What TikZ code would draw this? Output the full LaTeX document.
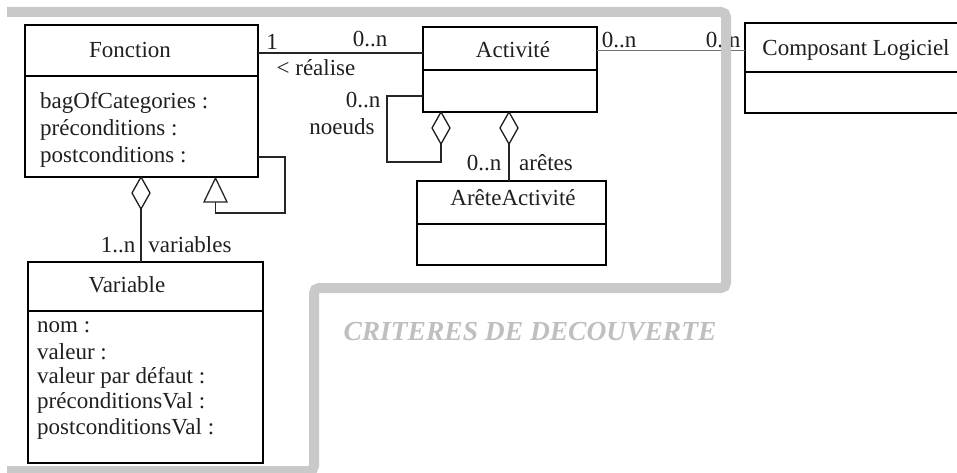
\documentclass[tikz,border=0pt]{standalone}
\usepackage{fontspec}
\setmainfont{Liberation Serif}
\usetikzlibrary{shapes.geometric,calc}
\begin{document}
\begin{tikzpicture}[x=1pt,y=-1pt,
  box/.style={draw=black, line width=1.4pt, anchor=north west, inner sep=0pt, outer sep=0pt},
  divider/.style={draw=black, line width=1.4pt},
  txt/.style={font=\fontsize{23}{26}\selectfont, inner sep=0pt, text=black!88},
  attr/.style={txt, anchor=west},
  conn/.style={draw=black!85, line width=1.3pt},
  lightconn/.style={draw=black!55, line width=1pt},
  band/.style={draw=black!21, line width=10pt, rounded corners=5pt},
  dia/.style={draw=black!88, line width=1.3pt, fill=white, diamond, minimum width=18pt, minimum height=32pt, inner sep=0pt, outer sep=0pt, anchor=north},
  crit/.style={font=\fontsize{27.5}{30}\selectfont\bfseries\itshape, text=black!25, inner sep=0pt}
]
\useasboundingbox (0,0) rectangle (957,473);

% ---- classes ----
\node[box, minimum width=233pt, minimum height=152pt] (fon) at (25,25) {};
\draw[divider] (fon.west |- 0,76) -- (fon.east |- 0,76);
\node[txt] (fonT) at (130,50) {Fonction};
\node[attr] (fonA1) at (40,103) {bagOfCategories :};
\node[attr] (fonA2) at (40,130) {préconditions :};
\node[attr] (fonA3) at (40,157) {postconditions :};

\node[box, minimum width=174pt, minimum height=85pt] (act) at (423,27) {};
\draw[divider] (act.west |- 0,70) -- (act.east |- 0,70);
\node[txt] (actT) at (513,50) {Activité};

\node[box, minimum width=250pt, minimum height=90pt] (comp) at (745,23) {};
\draw[divider] (comp.west |- 0,72) -- (comp.east |- 0,72);
\node[txt] (compT) at (856,50) {Composant Logiciel};

\node[box, minimum width=189pt, minimum height=84pt] (are) at (417,181) {};
\draw[divider] (are.west |- 0,224) -- (are.east |- 0,224);
\node[txt] (areT) at (513,198) {ArêteActivité};

\node[box, minimum width=235pt, minimum height=201pt] (var) at (28,262) {};
\draw[divider] (var.west |- 0,311) -- (var.east |- 0,311);
\node[txt] (varT) at (127,285) {Variable};
\node[attr] (varA1) at (37,327) {nom :};
\node[attr] (varA2) at (37,352) {valeur :};
\node[attr] (varA3) at (37,378) {valeur par défaut :};
\node[attr] (varA4) at (37,403) {préconditionsVal :};
\node[attr] (varA5) at (37,429) {postconditionsVal :};

% ---- Fonction -- Activite ----
\draw[conn] (fon.east |- 0,53) -- (act.west |- 0,53);
\node[txt] (l1) at (272,42) {1};
\node[txt] (l0n) at (370,39) {0..n};
\node[txt] (lreal) at (316,68) {< réalise};

% ---- Activite self loop (noeuds) ----
\node[dia] (d1) at ($(act.south west)+(18,0)$) {};
\coordinate (loopA) at (387,96);
\coordinate (loopB) at (387,162);
\draw[conn] (act.west |- loopA) -- (loopA) -- (loopB) -| (d1.south);
\node[txt] (lnoeudsn) at (363,100) {0..n};
\node[txt] (lnoeuds) at (342,127) {noeuds};

% ---- Activite -- AreteActivite ----
\node[dia] (d2) at ($(act.south west)+(86,0)$) {};
\draw[conn] (d2.south) -- (d2.south |- are.north);
\node[txt] (laren) at (484,163) {0..n};
\node[txt] (lare) at (546,163) {arêtes};

% ---- Fonction inheritance self loop ----
\coordinate (triA) at (215.5,178);
\coordinate (triB) at (215.5,202);
\coordinate (inhA) at (285,157);
\coordinate (inhB) at (285,213);
\draw[conn] (fon.east |- inhA) -- (inhA) -- (inhB) -| (triB);
\draw[conn, fill=white] (triA) -- ($(triB)+(-11.5,0)$) -- ($(triB)+(11.5,0)$) -- cycle;

% ---- Fonction -- Variable ----
\node[dia] (d3) at ($(fon.south west)+(116,0)$) {};
\draw[conn] (d3.south) -- (d3.south |- var.north);
\node[txt] (lvarn) at (118,245) {1..n};
\node[txt] (lvar) at (190,245) {variables};

% ---- Activite -- Composant ----
\draw[lightconn] (act.east |- 0,51) -- (comp.west |- 0,51);
\node[txt] (lc1) at (619,40) {0..n};
\node[txt] (lc2) at (723,40) {0..n};

% ---- grey frame ----
\draw[band] (7,12) -- (726,12) -- (726,288) -- (314,288) -- (314,471) -- (7,471);
\node[crit] (critT) at (530,332) {CRITERES DE DECOUVERTE};
\end{tikzpicture}
\end{document}
